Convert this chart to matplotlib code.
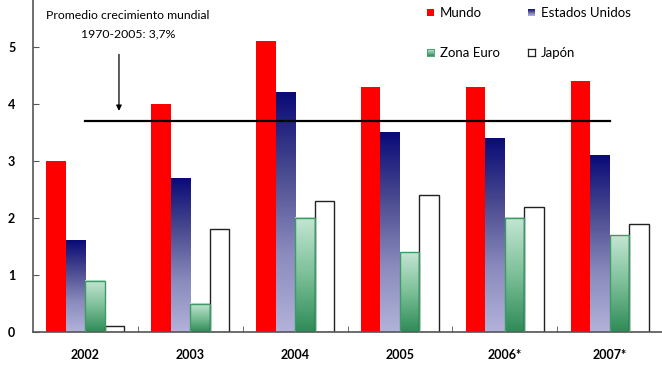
import matplotlib
matplotlib.use("Agg")
import matplotlib.pyplot as plt
import numpy as np
from matplotlib.colors import LinearSegmentedColormap
from matplotlib.patches import Rectangle

plt.rcParams['font.family'] = ['Lato', 'DejaVu Sans']

years = ["2002", "2003", "2004", "2005", "2006*", "2007*"]
mundo = [3.0, 4.0, 5.1, 4.3, 4.3, 4.4]
eeuu = [1.6, 2.7, 4.2, 3.5, 3.4, 3.1]
euro = [0.9, 0.5, 2.0, 1.4, 2.0, 1.7]
japon = [0.1, 1.8, 2.3, 2.4, 2.2, 1.9]
promedio = 3.7
series_names = ["Mundo", "Estados Unidos", "Zona Euro", "Japón"]

cm_us = LinearSegmentedColormap.from_list("us", ["#b2b2da", "#8a8abd", "#4a4a90", "#0a0a78"])
cm_eu = LinearSegmentedColormap.from_list("eu", ["#2e8b57", "#7cbf98", "#c4e6d4"])

fig = plt.figure(figsize=(6.62, 3.65), dpi=100)
ax = fig.add_axes([33/662, 1-332/365, 1-33/662, 332/365])

x = np.arange(len(years))
w = 0.186
grad = np.linspace(0, 1, 256).reshape(-1, 1)

ax.bar(x - 1.5*w, mundo, w, color="#ff0000", zorder=2)
for xi, v in zip(x, eeuu):
    x0 = xi - w
    ax.imshow(grad, extent=[x0, x0 + w, 0, v], origin="lower", aspect="auto", cmap=cm_us, zorder=2)
for xi, v in zip(x, euro):
    x0 = xi
    ax.imshow(grad, extent=[x0, x0 + w, 0, v], origin="lower", aspect="auto", cmap=cm_eu, zorder=2)
    ax.add_patch(Rectangle((x0, 0), w, v, fill=False, edgecolor="#3c9c64", lw=1.0, zorder=3))
ax.bar(x + 1.5*w, japon, w, color="white", edgecolor="#222222", lw=1.0, zorder=2)

ax.plot([x[0], x[-1]], [promedio, promedio], color="black", lw=1.6, zorder=4)

ax.annotate("", xy=(0.32, 3.83), xytext=(0.32, 4.92),
            arrowprops=dict(arrowstyle="-|>", color="black", lw=0.9, mutation_scale=8))
ax.text(0.406, 5.55, "Promedio crecimiento mundial", ha="center", va="center", fontsize=8.8)
ax.text(0.406, 5.23, "1970-2005: 3,7%", ha="center", va="center", fontsize=8.8)

ax.set_xlim(-0.5, 5.5)
ax.set_ylim(0, 332/57)
ax.set_yticks(range(6))
ax.set_yticklabels([str(i) for i in range(6)], fontweight="bold", fontsize=9)
ax.set_xticks(x)
ax.set_xticklabels(years, fontweight="bold", fontsize=9)
ax.tick_params(axis="x", length=0, pad=12)
ax.set_xticks(np.arange(0.5, 5.5, 1), minor=True)
ax.tick_params(axis="x", which="minor", direction="in", length=4, color="#555555")
ax.tick_params(axis="y", direction="in", length=4, color="#555555", pad=18)
for lab in ax.get_yticklabels():
    lab.set_horizontalalignment("left")
for s in ["top", "right"]:
    ax.spines[s].set_visible(False)
for s in ["left", "bottom"]:
    ax.spines[s].set_color("#555555")
    ax.spines[s].set_linewidth(1.2)

# legend
def leg_square(px, py, kind):
    a = fig.add_axes([px/662, 1-(py+7)/365, 7/662, 7/365])
    a.set_xticks([]); a.set_yticks([])
    if kind == "red":
        a.set_facecolor("#ff0000")
        for s in a.spines.values(): s.set_visible(False)
    elif kind == "us":
        a.imshow(grad, origin="lower", aspect="auto", cmap=cm_us, extent=[0, 1, 0, 1])
        for s in a.spines.values(): s.set_visible(False)
    elif kind == "eu":
        a.imshow(grad, origin="lower", aspect="auto", cmap=cm_eu, extent=[0, 1, 0, 1])
        for s in a.spines.values(): s.set_color("#3c9c64"); s.set_linewidth(0.6)
    else:
        a.set_facecolor("white")
        for s in a.spines.values(): s.set_color("#222222"); s.set_linewidth(0.9)

leg_square(427, 9, "red")
leg_square(528, 9, "us")
leg_square(427, 49, "eu")
leg_square(528, 49, "jp")
fig.text(440/662, 1-13/365, series_names[0], ha="left", va="center", fontsize=9.5)
fig.text(541/662, 1-13/365, series_names[1], ha="left", va="center", fontsize=9.5)
fig.text(440/662, 1-53/365, series_names[2], ha="left", va="center", fontsize=9.5)
fig.text(541/662, 1-53/365, series_names[3], ha="left", va="center", fontsize=9.5)

fig.savefig("out.png", dpi=100)
